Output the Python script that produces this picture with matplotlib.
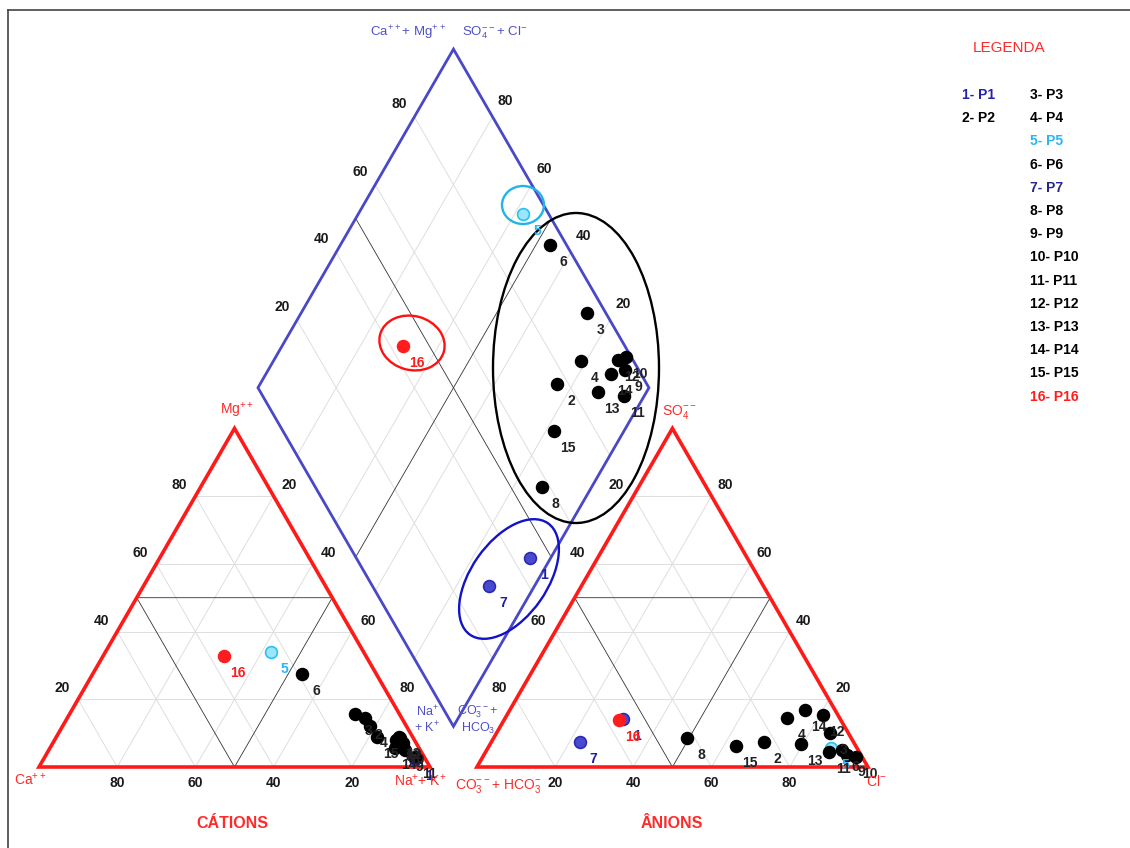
import numpy as np
import matplotlib
matplotlib.use("Agg")
import matplotlib.pyplot as plt
from matplotlib.patches import Ellipse, Polygon
from matplotlib.lines import Line2D

plt.rcParams['font.family'] = ['Liberation Sans Narrow', 'Liberation Sans', 'DejaVu Sans']
plt.rcParams['mathtext.default'] = 'regular'

# amostras (poços P1..P16), concentrações em % meq/L
amostras = [str(i) for i in range(1, 17)]
# cátions
mg = [2.5, 14.5, 15.6, 12.0, 34.1, 27.6, 7.0, 8.0, 5.0, 7.0, 3.0, 8.5, 9.0, 5.5, 9.0, 32.7]
na_k = [94.8, 76.0, 73.0, 78.6, 42.2, 53.5, 88.5, 87.2, 91.2, 89.5, 94.7, 88.0, 87.5, 88.2, 82.0, 31.0]
# ânions
so4 = [14.1, 7.3, 10.0, 14.4, 5.6, 5.0, 7.3, 8.5, 3.5, 3.0, 4.5, 15.3, 6.8, 16.7, 6.2, 13.8]
cl = [30.3, 69.7, 85.2, 72.2, 87.8, 90.8, 22.6, 49.5, 92.9, 95.5, 87.8, 80.8, 79.5, 75.5, 63.1, 29.5]

AZUL = '#2a2ab4'
CIANO = '#2cc0ee'
VERMELHO = '#ff1c1c'
cor_ponto = {'1': AZUL, '5': CIANO, '7': AZUL, '16': VERMELHO}
cor_texto = {'1': '#1e1ea0', '5': '#29b6f6', '7': '#1e1ea0', '16': VERMELHO}

legenda_col1 = ['1- P1', '2- P2']
legenda_col2 = ['3- P3', '4- P4', '5- P5', '6- P6', '7- P7', '8- P8', '9- P9', '10- P10',
                '11- P11', '12- P12', '13- P13', '14- P14', '15- P15', '16- P16']

H = np.sqrt(3) / 2
G = 12.0                     # espaço entre os triângulos
XA = 100 + G                 # origem do triângulo dos ânions
B = (100 + G / 2, G / 2 * np.sqrt(3))   # vértice inferior do losango

S = 3.91                     # px por unidade
X0, Y0 = 39, 767             # vértice do Ca em px
W, HPX = 1130, 848


def cat_xy(m, n):
    return n + m / 2, m * H


def an_xy(s, c):
    return XA + c + s / 2, s * H


def dia_xy(n, sc):
    a = (100 - n) / 100
    b = sc / 100
    return B[0] + 100 * (-0.5 * a + 0.5 * b), B[1] + 100 * H * (a + b)


fig = plt.figure(figsize=(W / 100, HPX / 100), dpi=100)
ax = fig.add_axes([0, 0, 1, 1])
ax.set_xlim(-X0 / S, (W - X0) / S)
ax.set_ylim((Y0 - HPX) / S, Y0 / S)
ax.axis('off')

# moldura
fig.add_artist(Line2D([8 / W, 1], [1 - 10 / HPX] * 2, color='#444', lw=1.2))
fig.add_artist(Line2D([8 / W] * 2, [0, 1 - 10 / HPX], color='#444', lw=1.2))

grade = dict(color='#dedede', lw=0.7, zorder=1)
divisao = dict(color='#333333', lw=0.6, zorder=2)

# grade dos triângulos
for v in [20, 40, 60, 80]:
    for f in (cat_xy, an_xy):
        p = [f(v, 0), f(v, 100 - v)]
        ax.plot(*zip(*p), **grade)
        p = [f(0, v), f(100 - v, v)]
        ax.plot(*zip(*p), **grade)
        p = [f(0, 100 - v), f(100 - v, 0)]
        ax.plot(*zip(*p), **grade)
    # grade do losango
    p = [dia_xy(v, 0), dia_xy(v, 100)]
    ax.plot(*zip(*p), **grade)
    p = [dia_xy(0, v), dia_xy(100, v)]
    ax.plot(*zip(*p), **grade)

# subdivisões internas
for f in (cat_xy, an_xy):
    p = [f(50, 0), f(50, 50), f(0, 50), f(50, 0)]
    ax.plot(*zip(*p), **divisao)
ax.plot(*zip(dia_xy(50, 0), dia_xy(50, 100)), **divisao)
ax.plot(*zip(dia_xy(0, 50), dia_xy(100, 50)), **divisao)

# contornos
for f in (cat_xy, an_xy):
    tri = [f(0, 0), f(0, 100), f(100, 0)]
    ax.add_patch(Polygon(tri, closed=True, fill=False, ec='#ff1a1a', lw=2.6, zorder=3))
los = [dia_xy(100, 0), dia_xy(0, 0), dia_xy(0, 100), dia_xy(100, 100)]
ax.add_patch(Polygon(los, closed=True, fill=False, ec='#4848c8', lw=2.0, zorder=3))


def rot(x, y, s, dx=0, dy=0, **kw):
    kw.setdefault('ha', 'center')
    kw.setdefault('va', 'center')
    ax.annotate(s, (x, y), xytext=(dx * 0.72, -dy * 0.72), textcoords='offset points', **kw)


num = dict(fontsize=10, fontweight='bold', color='#1a1a1a', zorder=6)
for v in [20, 40, 60, 80]:
    rot(*cat_xy(0, 100 - v), str(v), 0, 16, **num)
    rot(*cat_xy(v, 0), str(v), -16, -11, **num)
    rot(*cat_xy(100 - v, v), str(v), 16, -11, **num)
    rot(*an_xy(0, v), str(v), 0, 16, **num)
    rot(*an_xy(100 - v, 0), str(v), -17, -11, **num)
    rot(*an_xy(v, 100 - v), str(v), 14, -11, **num)
    rot(*dia_xy(0, v), str(v), -15, -13, **num)
    rot(*dia_xy(100 - v, 100), str(v), 13, -16, **num)

# pontos e rótulos
for i, a in enumerate(amostras):
    c = cor_ponto.get(a, 'black')
    fc = c if a not in ('1', '5', '7') else {'1': '#4a4ad0', '7': '#4a4ad0', '5': '#9ae6fb'}[a]
    pts = [cat_xy(mg[i], na_k[i]), an_xy(so4[i], cl[i]), dia_xy(na_k[i], so4[i] + cl[i])]
    for x, y in pts:
        ax.plot(x, y, 'o', ms=8.5, mfc=fc, mec=c, mew=1.2, zorder=5)
        rot(x, y, a, 14, 17, fontsize=10, fontweight='bold',
            color=cor_texto.get(a, '#222222'), zorder=6)

# destaques
elip = [((523, 205), 42, 38, 0, '#22b4e8'),
        ((576, 368), 166, 310, 0, 'black'),
        ((412, 343), 66, 54, -15, '#ff1010'),
        ((509, 579), 136, 76, 55, '#1212c8')]
for (cx, cy), w, h, ang, cor in elip:
    ax.add_patch(Ellipse(((cx - X0) / S, (Y0 - cy) / S), w / S, h / S, angle=ang,
                         fill=False, ec=cor, lw=1.7, zorder=4))


def ftxt(px, py, s, **kw):
    kw.setdefault('ha', 'center')
    kw.setdefault('va', 'center')
    fig.text(px / W, 1 - py / HPX, s, **kw)


red = dict(color='#ff2a2a', fontsize=10)
ftxt(30, 780, 'Ca$^{++}$', **red)
ftxt(447, 781, 'Na$^{+}$+ K$^{+}$', ha='right', **red)
ftxt(237, 411, 'Mg$^{++}$', **red)
ftxt(455, 786, 'CO$_3^{--}$+ HCO$_3^{-}$', ha='left', **red)
ftxt(876, 782, 'Cl$^{-}$', **red)
ftxt(679, 412, 'SO$_4^{--}$', **red)

blue = dict(color='#5050c8', fontsize=9.5)
ftxt(446, 33, 'Ca$^{++}$+ Mg$^{++}$', ha='right', **blue)
ftxt(462, 33, 'SO$_4^{--}$+ Cl$^{-}$', ha='left', **blue)
blue2 = dict(color='#5050c8', fontsize=9)
ftxt(427, 712, 'Na$^{+}$', **blue2)
ftxt(427, 728, '+ K$^{+}$', **blue2)
ftxt(478, 712, 'CO$_3^{--}$+', **blue2)
ftxt(478, 728, 'HCO$_3$', **blue2)

ftxt(232, 823, 'CÁTIONS', color='#ff2a2a', fontsize=11.5, fontweight='bold')
ftxt(672, 823, 'ÂNIONS', color='#ff2a2a', fontsize=11.5, fontweight='bold')

# legenda
ftxt(1009, 48, 'LEGENDA', color='#ff2a2a', fontsize=11)
leg = dict(fontsize=10, fontweight='bold', ha='left')
ftxt(962, 95, legenda_col1[0], color='#2222aa', **leg)
ftxt(962, 118, legenda_col1[1], color='black', **leg)
cores_leg = {'5- P5': '#29b6f6', '7- P7': '#28288a', '16- P16': '#ff1c1c'}
for k, s in enumerate(legenda_col2):
    ftxt(1030, 95 + k * 23.2, s, color=cores_leg.get(s, 'black'), **leg)

fig.savefig('out.png', dpi=100)
